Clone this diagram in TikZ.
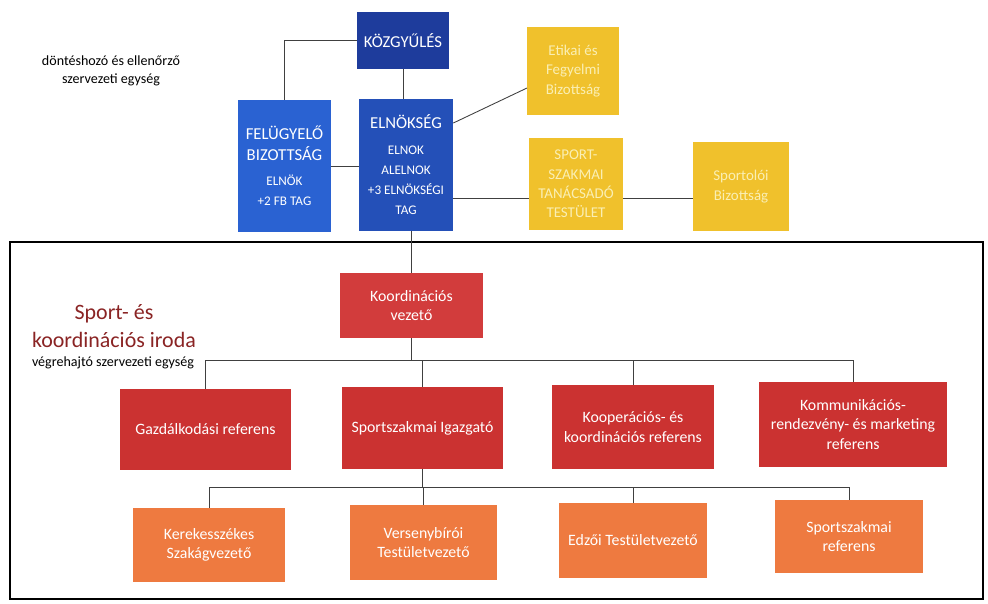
\documentclass[tikz,border=0pt]{standalone}
\usepackage{fontspec}
\setmainfont{Carlito}
\usepackage{xcolor}

\definecolor{kgyblue}{HTML}{1E3C9C}
\definecolor{elnblue}{HTML}{2450B8}
\definecolor{fbblue}{HTML}{2A62D2}
\definecolor{gold}{HTML}{F0C12C}
\definecolor{paleyel}{HTML}{FAEFB4}
\definecolor{koordred}{HTML}{D23C3C}
\definecolor{refred}{HTML}{CB3231}
\definecolor{tanorange}{HTML}{EE7A40}
\definecolor{irodared}{HTML}{8A2424}

\newcommand{\boxsmall}{\fontsize{7.5}{9}\selectfont}

\begin{document}
\begin{tikzpicture}[
    x=0.02cm, y=-0.02cm,
    box/.style={rectangle, align=center, text=white, inner sep=2pt, font=\fontsize{9}{11}\selectfont},
    bluebox/.style={box, font=\fontsize{9.5}{11.5}\selectfont},
    yelbox/.style={box, fill=gold, text=paleyel, font=\fontsize{8.5}{11}\selectfont},
    line/.style={draw=black!75, line width=0.5pt}
]
\useasboundingbox (0,0) rectangle (988,603);

% executive frame
\draw[line width=1.1pt] (10,242) rectangle (983,599);

% side labels
\node[align=center, font=\fontsize{8}{10.5}\selectfont] (dontes) at (111,71) {döntéshozó és ellenőrző\\szervezeti egység};
\node[align=center, text=irodared, font=\fontsize{12.5}{16}\selectfont] (iroda) at (114,326) {Sport- és\\koordinációs iroda};
\node[font=\fontsize{8}{10}\selectfont] (vegreh) at (113,363) {végrehajtó szervezeti egység};

% decision-making units
\node[bluebox, fill=kgyblue, minimum width=1.84cm, minimum height=1.14cm] (kozgyules) at (403,40.5) {KÖZGYŰLÉS};
\node[bluebox, fill=fbblue, minimum width=1.86cm, minimum height=2.64cm] (fb) at (284.5,166) {FELÜGYELŐ\\BIZOTTSÁG\\[3pt]\boxsmall ELNÖK\\\boxsmall +2 FB TAG};
\node[bluebox, fill=elnblue, minimum width=1.88cm, minimum height=2.64cm] (elnokseg) at (406,165) {ELNÖKSÉG\\[3pt]\boxsmall ELNOK\\\boxsmall ALELNOK\\\boxsmall +3 ELNÖKSÉGI\\\boxsmall TAG};

% committees
\node[yelbox, minimum width=1.84cm, minimum height=1.76cm] (etikai) at (573,71) {Etikai és\\Fegyelmi\\Bizottság};
\node[yelbox, minimum width=1.88cm, minimum height=1.84cm] (tanacs) at (576,184) {SPORT-\\SZAKMAI\\TANÁCSADÓ\\TESTÜLET};
\node[yelbox, minimum width=1.92cm, minimum height=1.78cm] (sportolo) at (741,186.5) {Sportolói\\Bizottság};

% office
\node[box, fill=koordred, minimum width=2.86cm, minimum height=1.30cm] (koord) at (411.5,305.5) {Koordinációs\\vezető};

\node[box, fill=refred, minimum width=3.42cm, minimum height=1.62cm] (gazd) at (205.5,429.5) {Gazdálkodási referens};
\node[box, fill=refred, minimum width=3.22cm, minimum height=1.64cm] (igazgato) at (422.5,428) {Sportszakmai Igazgató};
\node[box, fill=refred, minimum width=3.24cm, minimum height=1.68cm] (koop) at (633,427) {Kooperációs- és\\koordinációs referens};
\node[box, fill=refred, minimum width=3.76cm, minimum height=1.70cm] (komm) at (853,424.5) {Kommunikációs-\\rendezvény- és marketing\\referens};

\node[box, fill=tanorange, minimum width=3.04cm, minimum height=1.48cm] (kerekes) at (209,545) {Kerekesszékes\\Szakágvezető};
\node[box, fill=tanorange, minimum width=2.94cm, minimum height=1.50cm] (verseny) at (423.5,542.5) {Versenybírói\\Testületvezető};
\node[box, fill=tanorange, minimum width=2.96cm, minimum height=1.50cm] (edzo) at (633,540.5) {Edzői Testületvezető};
\node[box, fill=tanorange, minimum width=2.96cm, minimum height=1.46cm] (sportref) at (849,536.5) {Sportszakmai\\referens};

% connectors, top
\draw[line] (kozgyules.west) -| (fb.north);
\draw[line] (kozgyules.south) -- (kozgyules.south |- elnokseg.north);
\draw[line] (fb.east) -- (fb.east -| elnokseg.west);
\coordinate (etin) at (527,88);
\draw[line] (elnokseg.east) ++(0,-42) -- (etin);
\coordinate (tanin) at (529,198);
\draw[line] (tanin -| elnokseg.east) -- (tanin);
\draw[line] (tanin -| tanacs.east) -- (tanin -| sportolo.west);
\draw[line] (koord.north) -- (koord.north |- elnokseg.south);

% connectors, office
\coordinate (bus1) at (411.5,360);
\draw[line] (koord.south) -- (bus1);
\foreach \n in {gazd, igazgato, koop, komm}
  \draw[line] (\n.north) |- (bus1);
\coordinate (bus2) at (422.5,487);
\draw[line] (igazgato.south) -- (bus2);
\foreach \n in {kerekes, verseny, edzo, sportref}
  \draw[line] (\n.north) |- (bus2);
\end{tikzpicture}
\end{document}
